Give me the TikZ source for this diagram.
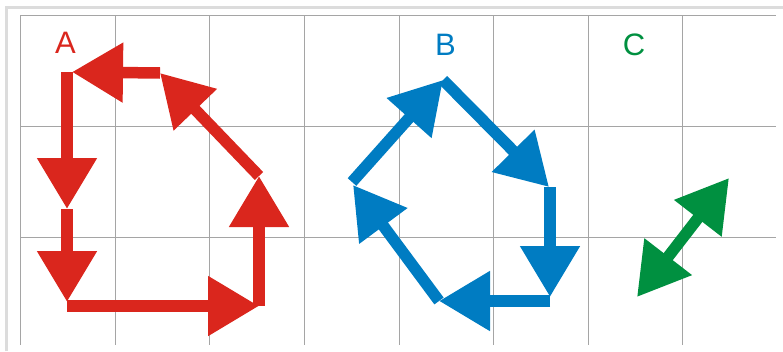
\documentclass[tikz,border=0pt]{standalone}
\usepackage{fontspec}
\setmainfont{Liberation Sans}
\usetikzlibrary{arrows.meta}
\definecolor{cred}{RGB}{218,38,29}
\definecolor{cblue}{RGB}{0,124,194}
\definecolor{cgreen}{RGB}{0,144,64}
\definecolor{gridgray}{RGB}{165,165,165}
\definecolor{framegray}{RGB}{220,220,220}
\tikzset{
  bigtip/.tip={Triangle[length=51pt,width=57pt]},
  bigarrow/.style={line width=11.5pt, -bigtip},
  dblarrow/.style={line width=11.5pt, bigtip-bigtip},
  lbl/.style={inner sep=0pt, font=\fontsize{31}{37}\selectfont},
  gridline/.style={draw=gridgray, line width=1pt},
  frameline/.style={draw=framegray, line width=3pt}
}
\begin{document}
\begin{tikzpicture}[x=1pt,y=-1pt]
\useasboundingbox (0,0) rectangle (783,351);
% frame
\draw[frameline] (6.5,351) -- (6.5,7.5) -- (783,7.5);
% grid
\foreach \k in {0,...,7}{
  \draw[gridline] ({20.7+94.6*\k},15) -- ({20.7+94.6*\k},345);
}
\foreach \yy in {15,126.3,237.3}{
  \draw[gridline] (20.7,\yy) -- (776,\yy);
}
% labels
\node[lbl, text=cred] (la) at (65.5,42.5) {A};
\node[lbl, text=cblue] (lb) at (445.5,44.7) {B};
\node[lbl, text=cgreen] (lc) at (634,45) {C};
% red cycle A
\coordinate (r1) at (67,72);
\coordinate (r1t) at (72,72);
\coordinate (r2) at (67,209);
\coordinate (r3t) at (67,302);
\coordinate (r3) at (67,306);
\coordinate (r4) at (259,306);
\coordinate (r5) at (259,176);
\coordinate (r6) at (160,73);
\draw[bigarrow, cred] (r1) -- (r2);
\draw[bigarrow, cred] (r2) -- (r3t);
\draw[bigarrow, cred] (r3) -- (r4);
\draw[bigarrow, cred] (r4) -- (r5);
\draw[bigarrow, cred] (r5) -- (r6);
\draw[bigarrow, cred] (r6) -- (r1t);
% blue cycle B
\coordinate (b1) at (352,182);
\coordinate (b2) at (443,80);
\coordinate (b3) at (549,187);
\coordinate (b3s) at (550,187);
\coordinate (b4t) at (550,297);
\coordinate (b4) at (550,301);
\coordinate (b5) at (439,301);
\coordinate (b6) at (353,185);
\draw[bigarrow, cblue] (b1) -- (b2);
\draw[bigarrow, cblue] (b2) -- (b3);
\draw[bigarrow, cblue] (b3s) -- (b4t);
\draw[bigarrow, cblue] (b4) -- (b5);
\draw[bigarrow, cblue] (b5) -- (b6);
% green double arrow C
\coordinate (g1) at (637,297);
\coordinate (g2) at (729,178);
\draw[dblarrow, cgreen] (g1) -- (g2);
\end{tikzpicture}
\end{document}
